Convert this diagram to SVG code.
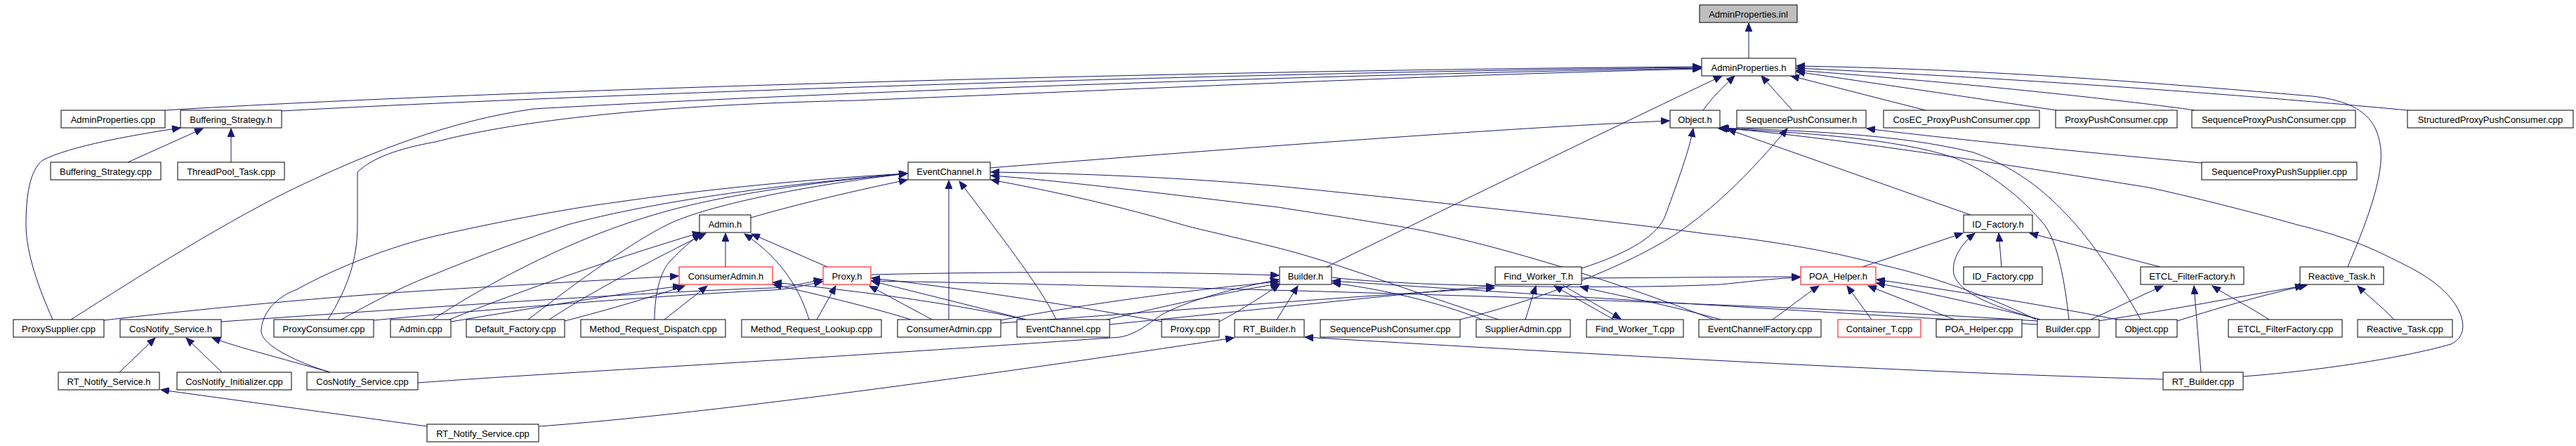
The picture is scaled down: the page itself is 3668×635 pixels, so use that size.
<svg xmlns="http://www.w3.org/2000/svg" width="3668" height="635" viewBox="0 0 3668 635">
<style>
.n rect{fill:#fff;stroke:#000;stroke-width:1}
.n.r rect{stroke:#f00}
.n.g rect{fill:#bfbfbf}
.n text{font-family:"Liberation Sans",Arial,sans-serif;font-size:13px;text-anchor:middle;fill:#000}
#edges path{fill:none;stroke:#191970;stroke-width:1;marker-end:url(#a)}
</style>
<defs>
<marker id="a" markerWidth="13" markerHeight="10" refX="12" refY="5" orient="auto" markerUnits="userSpaceOnUse">
<path d="M0,0 L12,5 L0,10 z" fill="#191970" stroke="#191970" stroke-width="1"/>
</marker>
</defs>
<rect width="3668" height="635" fill="#fff"/>
<g id="edges">
<path d="M2490,83 L2490,33"/>
<path d="M235,157 C700,128 1700,100 2422,95"/>
<path d="M401,158 C800,136 1700,104 2422,96"/>
<path d="M101,455 C200,392 330,310 430,263 C530,216 640,172 760,155 C1200,130 1900,106 2422,97"/>
<path d="M467,455 C495,410 509,370 509,320 L509,245 C530,225 565,212 620,202 C720,176 900,150 1220,143 C1600,128 2000,108 2422,98"/>
<path d="M1889,380 C1960,345 2300,180 2452,108"/>
<path d="M2425,157 C2437,140 2455,122 2470,108"/>
<path d="M2552,157 L2508,108"/>
<path d="M2742,157 L2550,108"/>
<path d="M2928,157 L2558,102"/>
<path d="M3125,157 C3080,150 2850,122 2558,100"/>
<path d="M3428,157 C3300,145 3000,118 2558,97"/>
<path d="M3343,380 C3355,350 3395,262 3390,212 C3385,168 3360,145 3293,137 C3000,112 2800,98 2558,94"/>
<path d="M182,231 L289,183"/>
<path d="M329,231 L329,183"/>
<path d="M75,455 C55,410 37,360 37,320 C37,280 42,242 61,228 C100,208 190,192 257,182"/>
<path d="M1410,239 C1600,224 2100,184 2377,172"/>
<path d="M2252,382 C2320,360 2362,335 2372,305 C2390,255 2405,215 2411,183"/>
<path d="M2806,306 L2460,184"/>
<path d="M2946,455 C2940,400 2930,345 2911,320 C2880,282 2830,242 2781,224 C2700,197 2560,188 2447,183"/>
<path d="M3048,455 C3030,420 2990,360 2956,320 C2920,280 2880,242 2810,217 C2700,190 2560,186 2448,182"/>
<path d="M3194,536 C3300,528 3420,510 3490,490 C3515,478 3510,450 3490,425 C3465,395 3430,380 3400,365 C3360,345 3320,332 3271,320 C3200,300 3120,280 3060,267 C2800,225 2600,195 2450,182"/>
<path d="M3135,232 C3000,220 2750,195 2658,183"/>
<path d="M2079,455 C2200,425 2340,370 2405,320 C2460,280 2510,225 2545,183"/>
<path d="M1069,310 C1120,295 1200,275 1292,256"/>
<path d="M470,530 C420,515 370,490 372,470 C374,440 400,420 423,412 C480,380 560,350 620,336 C700,318 800,298 877,288 C1000,270 1150,255 1292,247"/>
<path d="M486,455 C540,425 580,405 620,390 C680,365 750,340 808,320 C900,295 1050,268 1292,247"/>
<path d="M616,455 C700,400 800,350 887,320 C960,295 1050,270 1292,247"/>
<path d="M752,455 C830,395 900,345 950,320 C990,300 1100,270 1292,247"/>
<path d="M1351,455 L1351,257"/>
<path d="M1504,455 C1485,415 1440,355 1366,258"/>
<path d="M2899,455 C2850,430 2760,395 2683,378 C2600,355 2500,340 2430,333 C2300,315 2000,283 1820,265 C1700,254 1550,247 1411,245"/>
<path d="M2134,455 C2000,412 1900,373 1820,353 C1760,338 1700,325 1684,320 C1600,295 1500,272 1411,256"/>
<path d="M2440,455 C2300,400 2100,338 1978,320 C1900,307 1850,300 1820,295 C1650,275 1500,256 1411,250"/>
<path d="M1033,380 L1033,332"/>
<path d="M1178,380 L1070,333"/>
<path d="M1152,455 C1140,415 1115,370 1060,333"/>
<path d="M932,455 C932,420 940,385 956,370 C970,355 985,342 998,333"/>
<path d="M640,455 C750,410 900,360 998,331"/>
<path d="M782,455 C850,410 950,360 1005,332"/>
<path d="M148,456 C300,438 500,420 620,413 C750,405 870,398 966,393"/>
<path d="M946,455 L1007,407"/>
<path d="M642,458 C750,440 870,420 970,407"/>
<path d="M804,457 C870,440 930,422 975,407"/>
<path d="M1297,455 C1250,440 1160,418 1101,405"/>
<path d="M1460,455 C1350,430 1200,412 1101,402"/>
<path d="M2901,457 C2500,430 1700,408 1241,400"/>
<path d="M1163,455 L1190,407"/>
<path d="M1327,455 L1238,407"/>
<path d="M1461,455 L1241,400"/>
<path d="M1655,458 C1500,430 1350,408 1241,396"/>
<path d="M315,458 C600,438 950,414 1100,410 C1130,408 1150,402 1171,398"/>
<path d="M532,456 C700,440 950,420 1100,413 C1130,411 1150,405 1171,401"/>
<path d="M595,545 C800,530 1100,515 1595,480 C1625,474 1640,455 1660,445 C1700,425 1760,410 1821,398"/>
<path d="M1818,455 L1848,407"/>
<path d="M2901,462 C2600,445 2200,420 1897,400"/>
<path d="M1241,391 C1500,385 1700,388 1821,392"/>
<path d="M1572,456 C1650,438 1750,415 1821,404"/>
<path d="M1424,456 C1550,432 1700,412 1821,401"/>
<path d="M2110,455 C2050,430 1960,410 1897,403"/>
<path d="M1736,458 C1770,440 1800,420 1822,405"/>
<path d="M2172,455 L2187,407"/>
<path d="M2298,455 L2213,407"/>
<path d="M2225,406 L2308,454"/>
<path d="M1425,460 C1700,440 1950,420 2128,410"/>
<path d="M2450,455 C2380,435 2300,420 2250,408"/>
<path d="M1580,462 C1800,440 2000,418 2128,407"/>
<path d="M2524,455 C2545,440 2570,420 2590,407"/>
<path d="M2665,455 L2630,407"/>
<path d="M2783,455 L2660,407"/>
<path d="M2905,455 C2820,433 2740,416 2672,403"/>
<path d="M3015,455 C2900,432 2780,414 2672,398"/>
<path d="M2252,396 C2400,395 2500,394 2563,394"/>
<path d="M1897,395 C2000,408 2300,412 2450,405 C2500,400 2530,396 2563,395"/>
<path d="M2652,380 L2795,332"/>
<path d="M2850,380 L2846,332"/>
<path d="M2905,455 C2850,440 2790,420 2782,390 C2778,368 2795,345 2812,332"/>
<path d="M3076,380 L2890,332"/>
<path d="M3231,455 C3200,435 3170,420 3150,407"/>
<path d="M3134,530 L3124,407"/>
<path d="M2977,455 C3010,440 3050,420 3080,407"/>
<path d="M3409,455 C3390,435 3370,420 3357,407"/>
<path d="M2987,457 C3100,440 3200,420 3280,407"/>
<path d="M3100,457 C3170,435 3230,418 3285,406"/>
<path d="M768,607 C1000,590 1400,535 1757,481"/>
<path d="M3080,540 C2700,530 2200,500 1858,480"/>
<path d="M608,607 L229,555"/>
<path d="M170,530 L221,481"/>
<path d="M316,530 L265,481"/>
<path d="M470,530 C400,510 340,495 302,481"/>
</g>
<g id="n0" class="n g"><rect x="2420" y="7" width="139" height="25"/><text x="2489.5" y="25">AdminProperties.inl</text></g>
<g id="n1" class="n"><rect x="2423" y="83" width="134" height="25"/><text x="2490" y="101">AdminProperties.h</text></g>
<g id="n2" class="n"><rect x="87" y="157" width="148" height="25"/><text x="161" y="175">AdminProperties.cpp</text></g>
<g id="n3" class="n"><rect x="257" y="157" width="144" height="25"/><text x="329" y="175">Buffering_Strategy.h</text></g>
<g id="n4" class="n"><rect x="2378" y="157" width="71" height="25"/><text x="2413.5" y="175">Object.h</text></g>
<g id="n5" class="n"><rect x="2473" y="157" width="184" height="25"/><text x="2565" y="175">SequencePushConsumer.h</text></g>
<g id="n6" class="n"><rect x="2682" y="157" width="222" height="25"/><text x="2793" y="175">CosEC_ProxyPushConsumer.cpp</text></g>
<g id="n7" class="n"><rect x="2927" y="157" width="173" height="25"/><text x="3013.5" y="175">ProxyPushConsumer.cpp</text></g>
<g id="n8" class="n"><rect x="3121" y="157" width="233" height="25"/><text x="3237.5" y="175">SequenceProxyPushConsumer.cpp</text></g>
<g id="n9" class="n"><rect x="3428" y="157" width="236" height="25"/><text x="3546" y="175">StructuredProxyPushConsumer.cpp</text></g>
<g id="n10" class="n"><rect x="72" y="231" width="157" height="25"/><text x="150.5" y="249">Buffering_Strategy.cpp</text></g>
<g id="n11" class="n"><rect x="253" y="231" width="152" height="25"/><text x="329" y="249">ThreadPool_Task.cpp</text></g>
<g id="n12" class="n"><rect x="1293" y="231" width="117" height="25"/><text x="1351.5" y="249">EventChannel.h</text></g>
<g id="n13" class="n"><rect x="3135" y="231" width="221" height="25"/><text x="3245.5" y="249">SequenceProxyPushSupplier.cpp</text></g>
<g id="n14" class="n"><rect x="996" y="306" width="73" height="25"/><text x="1032.5" y="324">Admin.h</text></g>
<g id="n15" class="n"><rect x="2796" y="306" width="98" height="25"/><text x="2845" y="324">ID_Factory.h</text></g>
<g id="n16" class="n r"><rect x="967" y="380" width="133" height="25"/><text x="1033.5" y="398">ConsumerAdmin.h</text></g>
<g id="n17" class="n r"><rect x="1172" y="380" width="68" height="25"/><text x="1206" y="398">Proxy.h</text></g>
<g id="n18" class="n"><rect x="1822" y="380" width="74" height="25"/><text x="1859" y="398">Builder.h</text></g>
<g id="n19" class="n"><rect x="2129" y="380" width="123" height="25"/><text x="2190.5" y="398">Find_Worker_T.h</text></g>
<g id="n20" class="n r"><rect x="2564" y="380" width="107" height="25"/><text x="2617.5" y="398">POA_Helper.h</text></g>
<g id="n21" class="n"><rect x="2796" y="380" width="112" height="25"/><text x="2852" y="398">ID_Factory.cpp</text></g>
<g id="n22" class="n"><rect x="3048" y="380" width="147" height="25"/><text x="3121.5" y="398">ETCL_FilterFactory.h</text></g>
<g id="n23" class="n"><rect x="3275" y="380" width="119" height="25"/><text x="3334.5" y="398">Reactive_Task.h</text></g>
<g id="n24" class="n"><rect x="19" y="455" width="129" height="25"/><text x="83.5" y="473">ProxySupplier.cpp</text></g>
<g id="n25" class="n"><rect x="171" y="455" width="144" height="25"/><text x="243" y="473">CosNotify_Service.h</text></g>
<g id="n26" class="n"><rect x="390" y="455" width="142" height="25"/><text x="461" y="473">ProxyConsumer.cpp</text></g>
<g id="n27" class="n"><rect x="556" y="455" width="86" height="25"/><text x="599" y="473">Admin.cpp</text></g>
<g id="n28" class="n"><rect x="664" y="455" width="140" height="25"/><text x="734" y="473">Default_Factory.cpp</text></g>
<g id="n29" class="n"><rect x="827" y="455" width="206" height="25"/><text x="930" y="473">Method_Request_Dispatch.cpp</text></g>
<g id="n30" class="n"><rect x="1056" y="455" width="199" height="25"/><text x="1155.5" y="473">Method_Request_Lookup.cpp</text></g>
<g id="n31" class="n"><rect x="1278" y="455" width="147" height="25"/><text x="1351.5" y="473">ConsumerAdmin.cpp</text></g>
<g id="n32" class="n"><rect x="1448" y="455" width="132" height="25"/><text x="1514" y="473">EventChannel.cpp</text></g>
<g id="n33" class="n"><rect x="1654" y="455" width="82" height="25"/><text x="1695" y="473">Proxy.cpp</text></g>
<g id="n34" class="n"><rect x="1758" y="455" width="99" height="25"/><text x="1807.5" y="473">RT_Builder.h</text></g>
<g id="n35" class="n"><rect x="1880" y="455" width="199" height="25"/><text x="1979.5" y="473">SequencePushConsumer.cpp</text></g>
<g id="n36" class="n"><rect x="2102" y="455" width="134" height="25"/><text x="2169" y="473">SupplierAdmin.cpp</text></g>
<g id="n37" class="n"><rect x="2259" y="455" width="138" height="25"/><text x="2328" y="473">Find_Worker_T.cpp</text></g>
<g id="n38" class="n"><rect x="2419" y="455" width="174" height="25"/><text x="2506" y="473">EventChannelFactory.cpp</text></g>
<g id="n39" class="n r"><rect x="2617" y="455" width="118" height="25"/><text x="2676" y="473">Container_T.cpp</text></g>
<g id="n40" class="n"><rect x="2757" y="455" width="122" height="25"/><text x="2818" y="473">POA_Helper.cpp</text></g>
<g id="n41" class="n"><rect x="2901" y="455" width="88" height="25"/><text x="2945" y="473">Builder.cpp</text></g>
<g id="n42" class="n"><rect x="3013" y="455" width="87" height="25"/><text x="3056.5" y="473">Object.cpp</text></g>
<g id="n43" class="n"><rect x="3173" y="455" width="162" height="25"/><text x="3254" y="473">ETCL_FilterFactory.cpp</text></g>
<g id="n44" class="n"><rect x="3357" y="455" width="135" height="25"/><text x="3424.5" y="473">Reactive_Task.cpp</text></g>
<g id="n45" class="n"><rect x="83" y="530" width="144" height="25"/><text x="155" y="548">RT_Notify_Service.h</text></g>
<g id="n46" class="n"><rect x="252" y="530" width="163" height="25"/><text x="333.5" y="548">CosNotify_Initializer.cpp</text></g>
<g id="n47" class="n"><rect x="437" y="530" width="158" height="25"/><text x="516" y="548">CosNotify_Service.cpp</text></g>
<g id="n48" class="n"><rect x="3080" y="530" width="114" height="25"/><text x="3137" y="548">RT_Builder.cpp</text></g>
<g id="n49" class="n"><rect x="608" y="604" width="159" height="25"/><text x="687.5" y="622">RT_Notify_Service.cpp</text></g>
</svg>
